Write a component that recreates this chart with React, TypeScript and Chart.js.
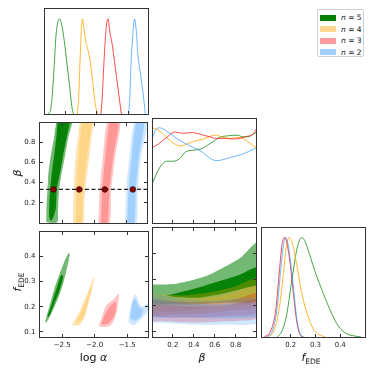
import React, { useEffect, useRef } from 'react';
import { Chart, registerables } from 'chart.js';
Chart.register(...registerables);

type P = [number, number];

// ---------- labels / ticks ----------
const seriesLabels = ['5', '4', '3', '2'];
const logAlphaRange: P = [-2.85, -1.18];
const betaRange: P = [0, 1];
const fedeRange: P = [0.08, 0.5];
const kdeRange: P = [0, 1.1];
const logAlphaTicks = [-2.5, -2.0, -1.5];
const betaTicks = [0.2, 0.4, 0.6, 0.8];
const fedeYTicks = [0.1, 0.2, 0.3, 0.4];
const fedeXTicks = [0.2, 0.3, 0.4];

// ---------- 1D: log alpha ----------
const kdeAlphaN5: P[] = [[-2.79, 0], [-2.75, 0.03], [-2.72, 0.18], [-2.685, 0.52], [-2.658, 0.82], [-2.63, 0.96], [-2.597, 1.0], [-2.557, 0.91], [-2.515, 0.72], [-2.48, 0.52], [-2.443, 0.32], [-2.403, 0.08], [-2.377, 0]];
const kdeAlphaN4: P[] = [[-2.315, 0], [-2.292, 0.2], [-2.269, 0.6], [-2.249, 0.9], [-2.234, 1.0], [-2.208, 0.9], [-2.177, 0.75], [-2.146, 0.68], [-2.108, 0.55], [-2.069, 0.35], [-2.03, 0.12], [-1.992, 0]];
const kdeAlphaN3: P[] = [[-1.935, 0], [-1.915, 0.18], [-1.889, 0.52], [-1.865, 0.79], [-1.845, 0.95], [-1.823, 1.0], [-1.788, 0.84], [-1.762, 0.76], [-1.711, 0.52], [-1.658, 0.25], [-1.608, 0]];
const kdeAlphaN2: P[] = [[-1.489, 0], [-1.47, 0.2], [-1.454, 0.52], [-1.428, 0.79], [-1.41, 0.95], [-1.397, 1.0], [-1.366, 0.86], [-1.342, 0.62], [-1.3, 0.42], [-1.258, 0.21], [-1.223, 0]];

// ---------- 1D: beta ----------
const kdeBetaN5: P[] = [[0, 0.407], [0.049, 0.53], [0.095, 0.613], [0.141, 0.647], [0.202, 0.647], [0.263, 0.673], [0.324, 0.747], [0.401, 0.763], [0.477, 0.78], [0.538, 0.82], [0.599, 0.863], [0.645, 0.897], [0.722, 0.913], [0.813, 0.92], [0.875, 0.903], [0.92, 0.903], [0.966, 0.93], [1.0, 0.95]];
const kdeBetaN4: P[] = [[0, 0.997], [0.049, 0.98], [0.11, 0.93], [0.171, 0.863], [0.232, 0.82], [0.278, 0.807], [0.339, 0.83], [0.416, 0.86], [0.492, 0.88], [0.569, 0.913], [0.615, 0.92], [0.676, 0.897], [0.752, 0.887], [0.844, 0.897], [0.905, 0.863], [0.966, 0.813], [1.0, 0.787]];
const kdeBetaN3: P[] = [[0, 0.79], [0.064, 0.83], [0.141, 0.897], [0.217, 0.953], [0.293, 0.94], [0.385, 0.947], [0.462, 0.93], [0.538, 0.907], [0.615, 0.887], [0.691, 0.887], [0.768, 0.88], [0.844, 0.887], [0.905, 0.907], [0.966, 0.93], [1.0, 0.987]];
const kdeBetaN2: P[] = [[0, 0.88], [0.034, 0.973], [0.073, 0.997], [0.125, 0.973], [0.202, 0.913], [0.294, 0.847], [0.385, 0.797], [0.477, 0.747], [0.554, 0.68], [0.615, 0.653], [0.676, 0.663], [0.752, 0.687], [0.844, 0.713], [0.92, 0.747], [1.0, 0.787]];

// ---------- 1D: f_EDE ----------
const kdeFedeN5: P[] = [[0.145, 0], [0.165, 0.06], [0.184, 0.23], [0.204, 0.56], [0.224, 0.87], [0.237, 0.98], [0.245, 1.0], [0.256, 0.97], [0.276, 0.83], [0.302, 0.63], [0.328, 0.46], [0.354, 0.3], [0.387, 0.13], [0.42, 0.04], [0.459, 0.01], [0.485, 0]];
const kdeFedeN4: P[] = [[0.106, 0], [0.132, 0.06], [0.152, 0.26], [0.169, 0.6], [0.182, 0.9], [0.194, 1.0], [0.208, 0.93], [0.224, 0.73], [0.243, 0.46], [0.263, 0.26], [0.289, 0.09], [0.315, 0.025], [0.34, 0]];
const kdeFedeN3: P[] = [[0.093, 0], [0.119, 0.06], [0.139, 0.26], [0.152, 0.6], [0.165, 0.93], [0.174, 1.0], [0.184, 0.95], [0.198, 0.73], [0.211, 0.43], [0.224, 0.16], [0.237, 0.025], [0.25, 0]];
const kdeFedeN2: P[] = [[0.1, 0], [0.126, 0.06], [0.145, 0.29], [0.158, 0.63], [0.171, 0.93], [0.178, 1.0], [0.188, 0.95], [0.202, 0.7], [0.215, 0.4], [0.227, 0.14], [0.243, 0.015], [0.255, 0]];

// ---------- 2D: log alpha vs beta (outer 95%, inner 68%) ----------
const abN5Outer: P[] = [[-2.745, 0.01], [-2.742, 0.15], [-2.726, 0.33], [-2.711, 0.5], [-2.674, 0.67], [-2.623, 0.85], [-2.565, 1.03], [-2.345, 1.03], [-2.403, 0.85], [-2.454, 0.67], [-2.505, 0.5], [-2.546, 0.33], [-2.562, 0.15], [-2.572, 0.01], [-2.66, 0.0], [-2.745, 0.01]];
const abN5Inner: P[] = [[-2.675, 0.02], [-2.70, 0.06], [-2.70, 0.15], [-2.685, 0.33], [-2.658, 0.5], [-2.623, 0.67], [-2.588, 0.85], [-2.55, 1.03], [-2.385, 1.03], [-2.428, 0.85], [-2.485, 0.67], [-2.531, 0.5], [-2.582, 0.33], [-2.597, 0.15], [-2.64, 0.05], [-2.675, 0.02]];
const abN4Outer: P[] = [[-2.331, -0.03], [-2.327, 0.15], [-2.32, 0.33], [-2.307, 0.5], [-2.289, 0.67], [-2.253, 0.85], [-2.205, 1.03], [-2.012, 1.03], [-2.043, 0.85], [-2.074, 0.67], [-2.107, 0.5], [-2.138, 0.33], [-2.16, 0.15], [-2.177, -0.03], [-2.331, -0.03]];
const abN4Inner: P[] = [[-2.292, -0.03], [-2.277, 0.33], [-2.246, 0.67], [-2.175, 1.03], [-2.043, 1.03], [-2.108, 0.67], [-2.169, 0.33], [-2.2, -0.03], [-2.292, -0.03]];
const abN3Outer: P[] = [[-1.938, -0.03], [-1.915, 0.33], [-1.865, 0.67], [-1.785, 1.03], [-1.597, 1.03], [-1.674, 0.67], [-1.738, 0.33], [-1.769, -0.03], [-1.938, -0.03]];
const abN3Inner: P[] = [[-1.9, -0.03], [-1.877, 0.33], [-1.828, 0.67], [-1.749, 1.03], [-1.62, 1.03], [-1.705, 0.67], [-1.766, 0.33], [-1.8, -0.03], [-1.9, -0.03]];
const abN2Outer: P[] = [[-1.523, -0.03], [-1.505, 0.33], [-1.454, 0.67], [-1.365, 1.03], [-1.172, 1.03], [-1.274, 0.67], [-1.326, 0.33], [-1.354, -0.03], [-1.523, -0.03]];
const abN2Inner: P[] = [[-1.492, -0.03], [-1.469, 0.33], [-1.418, 0.67], [-1.34, 1.03], [-1.22, 1.03], [-1.305, 0.67], [-1.357, 0.33], [-1.385, -0.03], [-1.492, -0.03]];
const markerBeta = 0.333;
const markerLogAlpha = [-2.634, -2.234, -1.838, -1.403];

// ---------- 2D: log alpha vs f_EDE ----------
const afN5Outer: P[] = [[-2.762, 0.142], [-2.70, 0.2], [-2.623, 0.27], [-2.546, 0.327], [-2.477, 0.373], [-2.40, 0.414], [-2.385, 0.407], [-2.423, 0.357], [-2.477, 0.3], [-2.538, 0.251], [-2.623, 0.198], [-2.70, 0.156], [-2.746, 0.137], [-2.762, 0.142]];
const afN5Inner: P[] = [[-2.731, 0.16], [-2.654, 0.217], [-2.577, 0.281], [-2.515, 0.327], [-2.485, 0.319], [-2.546, 0.262], [-2.623, 0.213], [-2.70, 0.163], [-2.731, 0.16]];
const afN4Outer: P[] = [[-2.351, 0.129], [-2.274, 0.161], [-2.197, 0.205], [-2.131, 0.243], [-2.069, 0.281], [-2.018, 0.318], [-2.003, 0.312], [-2.034, 0.274], [-2.085, 0.236], [-2.111, 0.205], [-2.146, 0.164], [-2.223, 0.129], [-2.30, 0.125], [-2.351, 0.129]];
const afN4Inner: P[] = [[-2.285, 0.141], [-2.223, 0.171], [-2.162, 0.209], [-2.1, 0.251], [-2.054, 0.281], [-2.038, 0.274], [-2.085, 0.224], [-2.131, 0.186], [-2.192, 0.148], [-2.254, 0.137], [-2.285, 0.141]];
const afN3Outer: P[] = [[-1.942, 0.122], [-1.915, 0.141], [-1.854, 0.186], [-1.823, 0.205], [-1.762, 0.22], [-1.70, 0.232], [-1.634, 0.252], [-1.631, 0.232], [-1.654, 0.186], [-1.70, 0.148], [-1.762, 0.125], [-1.854, 0.12], [-1.942, 0.122]];
const afN3Inner: P[] = [[-1.9, 0.133], [-1.823, 0.179], [-1.762, 0.202], [-1.685, 0.22], [-1.669, 0.202], [-1.70, 0.164], [-1.777, 0.137], [-1.854, 0.13], [-1.9, 0.133]];
const afN2Outer: P[] = [[-1.48, 0.141], [-1.469, 0.175], [-1.443, 0.205], [-1.415, 0.232], [-1.377, 0.25], [-1.346, 0.236], [-1.315, 0.213], [-1.269, 0.202], [-1.208, 0.209], [-1.169, 0.213], [-1.192, 0.179], [-1.269, 0.156], [-1.346, 0.137], [-1.423, 0.127], [-1.48, 0.141]];
const afN2Inner: P[] = [[-1.454, 0.156], [-1.431, 0.202], [-1.392, 0.232], [-1.362, 0.224], [-1.315, 0.198], [-1.254, 0.19], [-1.285, 0.164], [-1.377, 0.145], [-1.454, 0.156]];

// ---------- 2D: beta vs f_EDE ----------
const bfN5Outer: P[] = [[-0.02, 0.281], [0.2, 0.283], [0.4, 0.3], [0.55, 0.319], [0.7, 0.35], [0.85, 0.385], [1.02, 0.445], [1.02, 0.225], [0.7, 0.212], [0.4, 0.205], [0.2, 0.205], [-0.02, 0.21], [-0.02, 0.281]];
const bfN5Inner: P[] = [[0.135, 0.239], [0.25, 0.25], [0.379, 0.262], [0.593, 0.288], [0.838, 0.319], [1.02, 0.348], [1.02, 0.283], [0.899, 0.269], [0.685, 0.247], [0.44, 0.231], [0.25, 0.232], [0.135, 0.239]];
const bfN4Outer: P[] = [[-0.02, 0.245], [0.3, 0.24], [0.6, 0.255], [0.8, 0.275], [1.02, 0.305], [1.02, 0.2], [0.7, 0.18], [0.4, 0.168], [0.1, 0.163], [-0.02, 0.163], [-0.02, 0.245]];
const bfN4Inner: P[] = [[-0.02, 0.225], [0.4, 0.225], [0.7, 0.24], [1.02, 0.277], [1.02, 0.215], [0.7, 0.198], [0.4, 0.185], [-0.02, 0.18], [-0.02, 0.225]];
const bfN3Outer: P[] = [[-0.02, 0.225], [0.3, 0.215], [0.6, 0.215], [0.8, 0.225], [1.02, 0.247], [1.02, 0.155], [0.7, 0.14], [0.4, 0.135], [0.1, 0.14], [-0.02, 0.145], [-0.02, 0.225]];
const bfN3Inner: P[] = [[-0.02, 0.205], [0.4, 0.198], [0.7, 0.2], [1.02, 0.223], [1.02, 0.172], [0.7, 0.16], [0.4, 0.155], [-0.02, 0.162], [-0.02, 0.205]];
const bfN2Outer: P[] = [[-0.02, 0.246], [0.3, 0.225], [0.6, 0.22], [1.02, 0.226], [1.02, 0.135], [0.7, 0.128], [0.4, 0.128], [0.1, 0.135], [-0.02, 0.14], [-0.02, 0.246]];
const bfN2Inner: P[] = [[-0.02, 0.229], [0.3, 0.21], [0.6, 0.205], [1.02, 0.21], [1.02, 0.16], [0.6, 0.152], [0.3, 0.155], [-0.02, 0.16], [-0.02, 0.229]];

// ---------- styling ----------
const lineColors = ['rgba(0,128,0,0.72)', 'rgba(255,165,0,0.8)', 'rgba(255,0,0,0.7)', 'rgba(30,144,255,0.65)'];
const outerFill = ['rgba(0,128,0,0.55)', 'rgba(255,165,0,0.29)', 'rgba(255,0,0,0.23)', 'rgba(30,144,255,0.21)'];
const innerFill = ['rgba(0,128,0,0.95)', 'rgba(255,165,0,0.26)', 'rgba(255,0,0,0.23)', 'rgba(30,144,255,0.26)'];
const legendColors = ['#008000', '#ffd88f', '#ff9a9a', '#a6d0ff'];
const FONT = "'DejaVu Sans', sans-serif";
const TICK_COLOR = '#222';
const SPINE = '#333';

const colX = [39.5, 148, 256.5, 365];
const rowY = [8.5, 118, 227.5, 337];

const toXY = (pts: P[]) => pts.map(([x, y]) => ({ x, y }));
const fmt = (v: number) => (v < 0 ? '\u2212' : '') + Math.abs(v).toFixed(1);

const kdeLine = (pts: P[], i: number) => ({
  data: toXY(pts), showLine: true, pointRadius: 0, borderColor: lineColors[i], borderWidth: 1,
  fill: false, cubicInterpolationMode: 'monotone',
});
const poly = (pts: P[], color: string) => ({
  data: toXY(pts), showLine: true, pointRadius: 0, borderWidth: 0, borderColor: 'rgba(0,0,0,0)',
  backgroundColor: color, fill: 'shape', tension: 0.25,
});
const layered = (arr: any[]) => arr.map((d, i) => ({ ...d, order: arr.length - i }));

interface Spec {
  rect: [number, number, number, number];
  x: P; y: P;
  xt: number[]; yt: number[];
  xLab: boolean; yLab: boolean;
  sides: { t: boolean; b: boolean; l: boolean; r: boolean };
  datasets: any[];
}

function Panel({ s }: { s: Spec }) {
  const ref = useRef<HTMLCanvasElement>(null);
  const [L, T, R, B] = s.rect;
  const cl = s.yLab ? 0 : Math.floor(L) - 4;
  const ct = Math.floor(T) - 4;
  const cr = Math.ceil(R) + 4;
  const cb = s.xLab ? Math.ceil(B) + 16 : Math.ceil(B) + 4;
  const W = cr - cl, H = cb - ct;
  const padL = L - cl, padT = T - ct, padR = cr - R, padB = cb - B;

  useEffect(() => {
    const frame = {
      id: 'frame',
      afterDatasetsDraw(chart: any) {
        const ctx = chart.ctx; const a = chart.chartArea;
        const xs = chart.scales.x, ys = chart.scales.y;
        const snap = (v: number) => Math.round(v - 0.5) + 0.5;
        const l = snap(a.left), r = snap(a.right), t = snap(a.top), b = snap(a.bottom);
        ctx.save();
        ctx.strokeStyle = SPINE; ctx.lineWidth = 1;
        ctx.strokeRect(l, t, r - l, b - t);
        const len = 3.5;
        ctx.beginPath();
        for (const v of s.xt) {
          const px = snap(xs.getPixelForValue(v));
          if (s.sides.b) { ctx.moveTo(px, b); ctx.lineTo(px, b - len); }
          if (s.sides.t) { ctx.moveTo(px, t); ctx.lineTo(px, t + len); }
        }
        for (const v of s.yt) {
          const py = snap(ys.getPixelForValue(v));
          if (s.sides.l) { ctx.moveTo(l, py); ctx.lineTo(l + len, py); }
          if (s.sides.r) { ctx.moveTo(r, py); ctx.lineTo(r - len, py); }
        }
        ctx.stroke();
        ctx.restore();
      },
    };
    const tickFont = { family: FONT, size: 7 };
    const chart = new Chart(ref.current as HTMLCanvasElement, {
      type: 'scatter',
      data: { datasets: s.datasets },
      options: {
        animation: false, responsive: false, devicePixelRatio: 1, events: [],
        layout: { padding: { left: s.yLab ? 0 : padL, top: padT, right: padR, bottom: s.xLab ? 0 : padB } },
        plugins: { legend: { display: false }, tooltip: { enabled: false } },
        scales: {
          x: {
            type: 'linear', min: s.x[0], max: s.x[1], display: s.xLab,
            grid: { display: false, drawTicks: false }, border: { display: false },
            afterBuildTicks: (sc: any) => { sc.ticks = s.xt.map((v) => ({ value: v })); },
            afterFit: (sc: any) => { sc.height = padB; },
            ticks: { padding: 3.5, font: tickFont, color: TICK_COLOR, maxRotation: 0, autoSkip: false, callback: (v: any) => fmt(Number(v)) },
          },
          y: {
            type: 'linear', min: s.y[0], max: s.y[1], display: s.yLab,
            grid: { display: false, drawTicks: false }, border: { display: false },
            afterBuildTicks: (sc: any) => { sc.ticks = s.yt.map((v) => ({ value: v })); },
            afterFit: (sc: any) => { sc.width = padL; },
            ticks: { padding: 4, font: tickFont, color: TICK_COLOR, autoSkip: false, callback: (v: any) => fmt(Number(v)) },
          },
        },
      } as any,
      plugins: [frame],
    } as any);
    return () => chart.destroy();
  }, []);

  return <canvas ref={ref} width={W} height={H} style={{ position: 'absolute', left: cl, top: ct, width: W, height: H }} />;
}

const rect = (c: number, r: number): [number, number, number, number] => [colX[c], rowY[r], colX[c + 1], rowY[r + 1]];

const specs: Spec[] = [
  {
    rect: rect(0, 0), x: logAlphaRange, y: [0, 1.11], xt: logAlphaTicks, yt: [], xLab: false, yLab: false,
    sides: { t: false, b: true, l: false, r: false },
    datasets: layered([kdeLine(kdeAlphaN5, 0), kdeLine(kdeAlphaN4, 1), kdeLine(kdeAlphaN3, 2), kdeLine(kdeAlphaN2, 3)]),
  },
  {
    rect: rect(0, 1), x: logAlphaRange, y: betaRange, xt: logAlphaTicks, yt: betaTicks, xLab: false, yLab: true,
    sides: { t: true, b: true, l: true, r: true },
    datasets: layered([
      poly(abN5Outer, outerFill[0]), poly(abN5Inner, innerFill[0]),
      poly(abN4Outer, outerFill[1]), poly(abN4Inner, innerFill[1]),
      poly(abN3Outer, outerFill[2]), poly(abN3Inner, innerFill[2]),
      poly(abN2Outer, outerFill[3]), poly(abN2Inner, innerFill[3]),
      {
        data: [{ x: logAlphaRange[0], y: markerBeta }, { x: logAlphaRange[1], y: markerBeta }], showLine: true,
        pointRadius: 0, borderColor: '#222', borderWidth: 1.2, borderDash: [4, 2.5], fill: false,
      },
      {
        data: markerLogAlpha.map((x) => ({ x, y: markerBeta })), showLine: false, pointRadius: 2.8,
        pointBackgroundColor: '#8b0000', pointBorderColor: '#3a0000', pointBorderWidth: 0.8,
      },
    ]),
  },
  {
    rect: rect(1, 1), x: betaRange, y: kdeRange, xt: betaTicks, yt: [], xLab: false, yLab: false,
    sides: { t: false, b: true, l: false, r: false },
    datasets: layered([kdeLine(kdeBetaN5, 0), kdeLine(kdeBetaN4, 1), kdeLine(kdeBetaN3, 2), kdeLine(kdeBetaN2, 3)]),
  },
  {
    rect: rect(0, 2), x: logAlphaRange, y: fedeRange, xt: logAlphaTicks, yt: fedeYTicks, xLab: true, yLab: true,
    sides: { t: true, b: true, l: true, r: true },
    datasets: layered([
      poly(afN5Outer, outerFill[0]), poly(afN5Inner, innerFill[0]),
      poly(afN4Outer, outerFill[1]), poly(afN4Inner, innerFill[1]),
      poly(afN3Outer, outerFill[2]), poly(afN3Inner, innerFill[2]),
      poly(afN2Outer, outerFill[3]), poly(afN2Inner, innerFill[3]),
    ]),
  },
  {
    rect: rect(1, 2), x: betaRange, y: fedeRange, xt: betaTicks, yt: fedeYTicks, xLab: true, yLab: false,
    sides: { t: true, b: true, l: true, r: true },
    datasets: layered([
      poly(bfN5Outer, outerFill[0]), poly(bfN5Inner, innerFill[0]),
      poly(bfN4Outer, outerFill[1]), poly(bfN4Inner, innerFill[1]),
      poly(bfN3Outer, outerFill[2]), poly(bfN3Inner, innerFill[2]),
      poly(bfN2Outer, outerFill[3]), poly(bfN2Inner, innerFill[3]),
    ]),
  },
  {
    rect: rect(2, 2), x: fedeRange, y: kdeRange, xt: fedeXTicks, yt: [], xLab: true, yLab: false,
    sides: { t: false, b: true, l: false, r: false },
    datasets: layered([kdeLine(kdeFedeN5, 0), kdeLine(kdeFedeN4, 1), kdeLine(kdeFedeN3, 2), kdeLine(kdeFedeN2, 3)]),
  },
];

const titleStyle: React.CSSProperties = {
  position: 'absolute', fontFamily: FONT, fontSize: 11, color: '#111', whiteSpace: 'nowrap', lineHeight: 1,
};

function FEde() {
  return (<span><i>f</i><sub style={{ fontSize: 7.5, verticalAlign: 'baseline', position: 'relative', top: 3 }}>EDE</sub></span>);
}

export default function App() {
  return (
    <div style={{ position: 'absolute', left: 0, top: 0, width: 374, height: 374, background: '#fff', overflow: 'hidden' }}>
      {specs.map((s, i) => <Panel key={i} s={s} />)}
      <div style={{ ...titleStyle, left: 93.5, top: 356.5, transform: 'translate(-50%,-50%)' }}>log <i>α</i></div>
      <div style={{ ...titleStyle, left: 202, top: 357, transform: 'translate(-50%,-50%)' }}><i>β</i></div>
      <div style={{ ...titleStyle, left: 311, top: 357, transform: 'translate(-50%,-50%)' }}><FEde /></div>
      <div style={{ ...titleStyle, left: 17, top: 173, transform: 'translate(-50%,-50%) rotate(-90deg)' }}><i>β</i></div>
      <div style={{ ...titleStyle, left: 17, top: 282, transform: 'translate(-50%,-50%) rotate(-90deg)' }}><FEde /></div>
      <div style={{
        position: 'absolute', left: 316.5, top: 9, width: 47.5, height: 48, border: '1px solid #d0d0d0',
        borderRadius: 2, boxSizing: 'border-box', background: '#fff',
      }}>
        {seriesLabels.map((lab, i) => (
          <div key={i} style={{ position: 'absolute', left: 2.5, top: 3.5 + i * 11.5, height: 8, display: 'flex', alignItems: 'center' }}>
            <div style={{ width: 15.5, height: 6, background: legendColors[i] }} />
            <span style={{ marginLeft: 5.5, fontFamily: FONT, fontSize: 7.5, color: '#111', whiteSpace: 'nowrap' }}>
              <i>n</i> = {lab}
            </span>
          </div>
        ))}
      </div>
    </div>
  );
}
